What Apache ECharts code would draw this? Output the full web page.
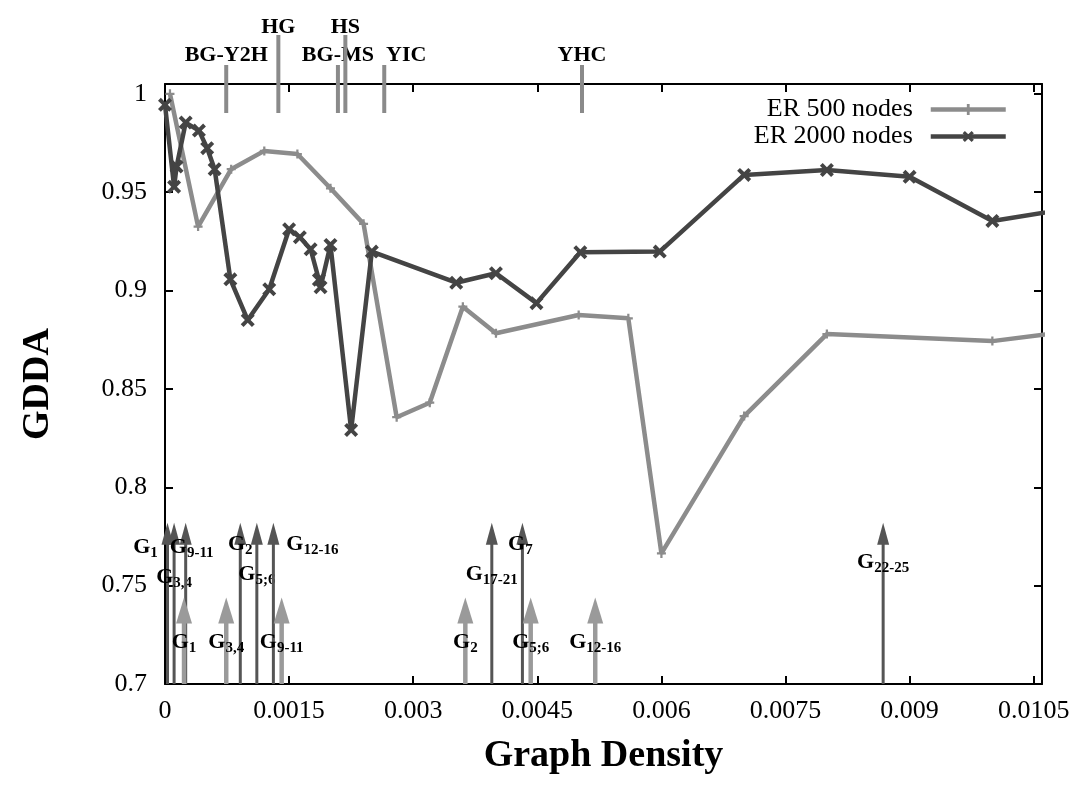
<!DOCTYPE html>
<html>
<head>
<meta charset="utf-8">
<script src="https://cdn.jsdelivr.net/npm/echarts@6/dist/echarts.min.js"></script>
<style>
  html, body { margin: 0; padding: 0; background: #fff; }
  #main { width: 1084px; height: 793px; }
</style>
</head>
<body>
<div id="main"></div>
<script>
// ER 500 nodes
var er500X = [0.00006, 0.0004, 0.0008, 0.0012, 0.0016, 0.002, 0.0024, 0.0028, 0.0032, 0.0036, 0.004, 0.005, 0.0056, 0.006, 0.007, 0.008, 0.01, 0.011];
var er500Y = [1.0, 0.9325, 0.9617, 0.971, 0.9694, 0.952, 0.9339, 0.8356, 0.843, 0.8918, 0.8783, 0.8876, 0.8859, 0.7664, 0.8362, 0.8779, 0.8743, 0.8795];

// ER 2000 nodes
var er2000X = [0, 0.00011, 0.00014, 0.00025, 0.00041, 0.00051, 0.0006, 0.00079, 0.001, 0.00126, 0.0015, 0.00163, 0.00176, 0.00186, 0.00188, 0.002, 0.00225, 0.0025, 0.00352, 0.004, 0.00449, 0.00502, 0.00598, 0.007, 0.008, 0.009, 0.01, 0.011];
var er2000Y = [0.9944, 0.9528, 0.963, 0.9854, 0.9813, 0.9724, 0.9617, 0.9057, 0.885, 0.9007, 0.9312, 0.9271, 0.921, 0.9055, 0.9017, 0.9232, 0.8291, 0.9198, 0.904, 0.9088, 0.8936, 0.9195, 0.9198, 0.9588, 0.9613, 0.9578, 0.9354, 0.9422];

// real networks marked on top
var topNames = ['BG-Y2H', 'HG', 'BG-MS', 'HS', 'YIC', 'YHC'];
var topX = [0.00074, 0.00137, 0.00209, 0.00218, 0.00265, 0.00504];
var topRow = [0, 1, 0, 1, 0, 0];

// arrows (dark = ER 2000, gray = ER 500)
var darkArrowSub = ['1', '3,4', '9-11', '2', '5;6', '12-16', '17-21', '7', '22-25'];
var darkArrowX = [0.00003, 0.00011, 0.00025, 0.00091, 0.00111, 0.00131, 0.00395, 0.00432, 0.00868];
var darkArrowTop = 0.782;
var grayArrowSub = ['1', '3,4', '9-11', '2', '5;6', '12-16'];
var grayArrowX = [0.00023, 0.00074, 0.00141, 0.00363, 0.00442, 0.0052];
var grayArrowTop = 0.744;

var xTicks = { min: 0, max: 0.0106, interval: 0.0015 };
var yTicks = { min: 0.7, max: 1.005, interval: 0.05 };

var FONT = '"Liberation Serif", "DejaVu Serif", serif';
var GRAY = '#8c8c8c';
var DARK = '#444444';

// label placement [dx, px above x axis]
var darkLabelPos = [[-22, 136], [0, 106], [6, 136], [0, 139], [0, 109], [39, 139], [0, 109], [-2, 139], [0, 121]];
var grayLabelUp = 41;

var subRich = {
  g: { fontSize: 22, fontWeight: 'bold', fontFamily: FONT, lineHeight: 25, verticalAlign: 'top' },
  s: { fontSize: 15, fontWeight: 'bold', fontFamily: FONT, lineHeight: 15, verticalAlign: 'bottom' }
};

function arrowSeries(xs, top, subs, color, width, headLen, headHalf, labelPos) {
  return {
    type: 'custom',
    z: 1,
    clip: false,
    data: xs.map(function (x, i) { return [x, top, i]; }),
    renderItem: function (params, api) {
      var i = api.value(2);
      var base = api.coord([api.value(0), yTicks.min]);
      var tip = api.coord([api.value(0), api.value(1)]);
      var pos = labelPos(i);
      return {
        type: 'group',
        children: [
          { type: 'line', shape: { x1: base[0], y1: base[1], x2: tip[0], y2: tip[1] + headLen - 2 },
            style: { stroke: color, lineWidth: width } },
          { type: 'polygon', shape: { points: [[tip[0], tip[1]], [tip[0] - headHalf, tip[1] + headLen], [tip[0] + headHalf, tip[1] + headLen]] },
            style: { fill: color } },
          { type: 'text', x: base[0] + pos[0], y: base[1] - pos[1] - 12,
            style: { text: '{g|G}{s|' + subs[i] + '}', rich: subRich, fill: '#000', align: 'center', verticalAlign: 'top' } }
        ]
      };
    }
  };
}

var plusPath = 'path://M3,0 H5 V3 H8 V5 H5 V8 H3 V5 H0 V3 H3 Z';
var crossPath = 'path://M2,0 L5,3 L8,0 L10,2 L7,5 L10,8 L8,10 L5,7 L2,10 L0,8 L3,5 L0,2 Z';

var myChart = echarts.init(document.getElementById('main'));

var axisLineStyle = { color: '#000', width: 2 };
var option = {
  animation: false,
  backgroundColor: '#fff',
  grid: { left: 165, right: 42, top: 84, bottom: 109, outerBoundsMode: 'none' },
  legend: {
    data: ['ER 500 nodes', 'ER 2000 nodes'],
    orient: 'vertical',
    right: 76,
    top: 96,
    align: 'right',
    padding: 0,
    itemGap: 0,
    itemWidth: 75,
    itemHeight: 14,
    lineStyle: { width: 4.5 },
    textStyle: { fontFamily: FONT, fontSize: 26, lineHeight: 27, color: '#000', padding: [0, 13, 0, 0] }
  },
  xAxis: [
    {
      type: 'value', min: xTicks.min, max: xTicks.max, interval: xTicks.interval,
      name: 'Graph Density', nameLocation: 'middle', nameGap: 53,
      nameTextStyle: { fontFamily: FONT, fontSize: 38, fontWeight: 'bold', color: '#000' },
      axisLine: { onZero: false, lineStyle: axisLineStyle },
      axisTick: { inside: true, length: 8, lineStyle: axisLineStyle },
      axisLabel: {
        fontFamily: FONT, fontSize: 26, color: '#000', margin: 14, showMaxLabel: false,
        formatter: function (v) { return String(+v.toFixed(5)); }
      },
      splitLine: { show: false }
    },
    {
      type: 'value', position: 'top', min: xTicks.min, max: xTicks.max, interval: xTicks.interval,
      axisLine: { onZero: false, lineStyle: axisLineStyle },
      axisTick: { inside: true, length: 8, lineStyle: axisLineStyle },
      axisLabel: { show: false },
      splitLine: { show: false }
    }
  ],
  yAxis: [
    {
      type: 'value', min: yTicks.min, max: yTicks.max, interval: yTicks.interval,
      name: 'GDDA', nameLocation: 'middle', nameGap: 108,
      nameTextStyle: { fontFamily: FONT, fontSize: 38, fontWeight: 'bold', color: '#000' },
      axisLine: { onZero: false, lineStyle: axisLineStyle },
      axisTick: { inside: true, length: 8, lineStyle: axisLineStyle },
      axisLabel: {
        fontFamily: FONT, fontSize: 26, color: '#000', margin: 18, showMaxLabel: false,
        formatter: function (v) { return String(+v.toFixed(3)); }
      },
      splitLine: { show: false }
    },
    {
      type: 'value', position: 'right', min: yTicks.min, max: yTicks.max, interval: yTicks.interval,
      axisLine: { onZero: false, lineStyle: axisLineStyle },
      axisTick: { inside: true, length: 8, lineStyle: axisLineStyle },
      axisLabel: { show: false },
      splitLine: { show: false }
    }
  ],
  series: [
    arrowSeries(darkArrowX, darkArrowTop, darkArrowSub, '#555555', 3, 22, 6,
      function (i) { return darkLabelPos[i]; }),
    arrowSeries(grayArrowX, grayArrowTop, grayArrowSub, '#9a9a9a', 4.5, 26, 8,
      function (i) { return [0, grayLabelUp]; }),
    {
      type: 'custom',
      z: 2,
      clip: false,
      data: topX.map(function (x, i) { return [x, topRow[i], i]; }),
      renderItem: function (params, api) {
        var p = api.coord([api.value(0), yTicks.max]);
        var tall = api.value(1) === 1;
        var i = api.value(2);
        var dx = topNames[i] === 'YIC' ? 22 : 0;
        return {
          type: 'group',
          children: [
            { type: 'line', shape: { x1: p[0], y1: p[1] - (tall ? 49 : 19), x2: p[0], y2: p[1] + 29 },
              style: { stroke: '#8a8a8a', lineWidth: 4 } },
            { type: 'text', x: p[0] + dx, y: p[1] - (tall ? 57 : 29),
              style: { text: topNames[i], fill: '#000', font: 'bold 22px ' + FONT, align: 'center', verticalAlign: 'middle' } }
          ]
        };
      }
    },
    {
      name: 'ER 500 nodes',
      type: 'line',
      z: 3,
      data: er500X.map(function (x, i) { return [x, er500Y[i]]; }),
      symbol: plusPath,
      symbolSize: 9,
      lineStyle: { color: GRAY, width: 4.5 },
      itemStyle: { color: GRAY }
    },
    {
      name: 'ER 2000 nodes',
      type: 'line',
      z: 4,
      data: er2000X.map(function (x, i) { return [x, er2000Y[i]]; }),
      symbol: crossPath,
      symbolSize: 14,
      lineStyle: { color: DARK, width: 4.5 },
      itemStyle: { color: DARK }
    }
  ]
};

myChart.setOption(option);
</script>
</body>
</html>
